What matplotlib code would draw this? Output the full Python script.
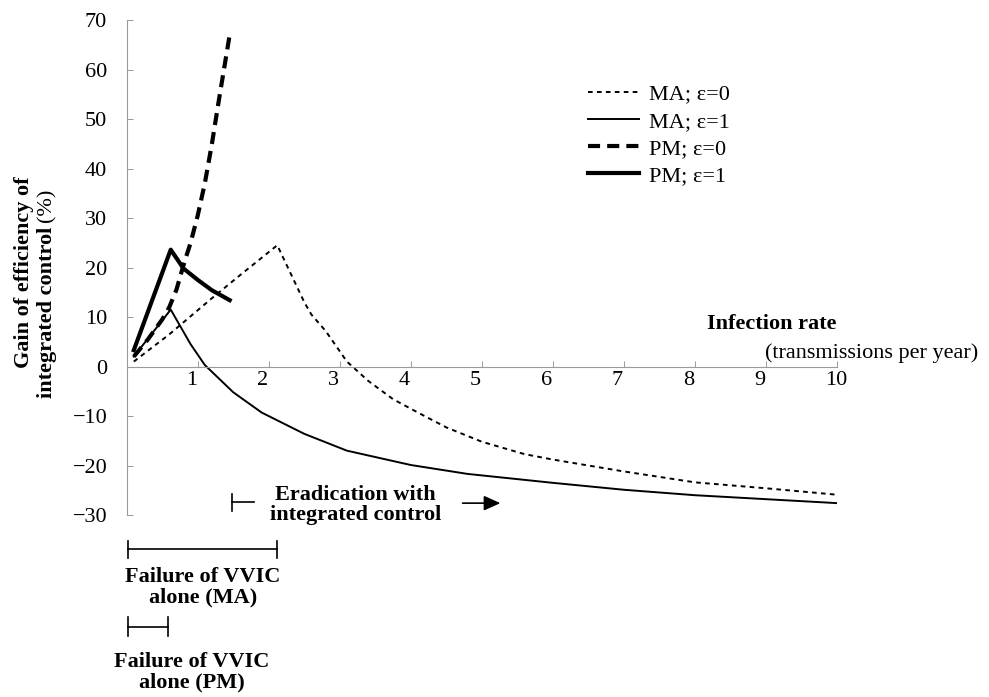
"""Gain of efficiency of integrated control vs infection rate (MA / PM models)."""
import matplotlib
matplotlib.use("Agg")
import matplotlib.pyplot as plt
import matplotlib.transforms as mtransforms

plt.rcParams["font.family"] = ["Liberation Serif", "DejaVu Serif"]
plt.rcParams["axes.unicode_minus"] = True

# MA model, epsilon = 0 (thin dotted)
ma0_x = [0.1, 0.6, 1.2, 1.6, 2.12, 2.5, 2.6, 2.8, 3.1, 3.4, 3.75, 4.1, 4.5, 5.0, 5.6, 6.0, 7.0, 8.0, 9.0, 10.0]
ma0_y = [1.0, 6.5, 13.8, 18.5, 24.5, 13.0, 10.5, 7.2, 1.0, -2.9, -6.6, -9.3, -12.3, -15.2, -17.7, -18.8, -21.2, -23.4, -24.6, -25.9]
# MA model, epsilon = 1 (thin solid)
ma1_x = [0.1, 0.62, 0.9, 1.1, 1.5, 1.9, 2.5, 3.1, 4.0, 4.8, 6.0, 7.0, 8.0, 9.0, 10.0]
ma1_y = [2.0, 11.5, 4.5, 0.3, -5.2, -9.3, -13.6, -17.0, -19.9, -21.7, -23.5, -24.9, -26.0, -26.8, -27.6]
# PM model, epsilon = 0 (thick dashed)
pm0_x = [0.1, 0.3, 0.5, 0.6, 0.7, 0.8, 0.9, 1.0, 1.1, 1.2, 1.3, 1.45]
pm0_y = [2.0, 5.5, 9.5, 12.0, 15.5, 20.5, 25.0, 30.5, 37.0, 45.0, 54.0, 67.0]
# PM model, epsilon = 1 (thick solid)
pm1_x = [0.1, 0.62, 0.8, 1.0, 1.2, 1.45]
pm1_y = [3.3, 23.6, 19.8, 17.5, 15.4, 13.4]

labels = ["MA; \u03b5=0", "MA; \u03b5=1", "PM; \u03b5=0", "PM; \u03b5=1"]
xticks = list(range(1, 11))
yticks = list(range(-30, 80, 10))

# ranges shown under the axis (infection rate)
ma_fail = (0.02, 2.12)
pm_fail = (0.02, 0.58)
erad_start = 1.48

FS = 16
fig = plt.figure(figsize=(9.89, 6.97), dpi=100)
ax = fig.add_axes([0.1281, 0.2611, 0.7182, 0.7102])

ax.plot(ma0_x, ma0_y, color="black", lw=1.4, ls=(0, (2.4, 2.2)), label=labels[0])
ax.plot(ma1_x, ma1_y, color="black", lw=1.4, label=labels[1])
ax.plot(pm0_x, pm0_y, color="black", lw=3.0, ls=(0, (2.9, 1.7)), label=labels[2])
ax.plot(pm1_x, pm1_y, color="black", lw=3.0, label=labels[3])

ax.set_xlim(0, 10)
ax.set_ylim(-30, 70)
ax.spines["top"].set_visible(False)
ax.spines["right"].set_visible(False)
ax.spines["bottom"].set_position(("data", 0))
for sp in ("left", "bottom"):
    ax.spines[sp].set_color("#9a9a9a")
    ax.spines[sp].set_linewidth(0.8)
ax.set_xticks(xticks)
ax.set_yticks(yticks)
ax.tick_params(axis="both", direction="in", length=4, width=0.7, color="#9a9a9a",
               labelsize=FS)
ax.tick_params(axis="y", pad=14)
ax.tick_params(axis="x", pad=3)
off = mtransforms.ScaledTranslation(-12 / 100, 0, fig.dpi_scale_trans)
for lab in ax.get_xticklabels():
    lab.set_horizontalalignment("left")
    lab.set_transform(lab.get_transform() + off)

leg = ax.legend(loc="upper left", bbox_to_anchor=(588 / 989, 1 - 84 / 697),
                bbox_transform=fig.transFigure, frameon=False, fontsize=FS,
                handlelength=2.3, handletextpad=0.45, labelspacing=0.3,
                borderpad=0, borderaxespad=0)

# axis titles
fig.text(24 / 989, 1 - 272 / 697, "Gain of efficiency of", rotation=90,
         ha="center", va="center", fontsize=FS, weight="bold")
t2 = fig.text(47 / 989, 1 - 398 / 697, "integrated control", rotation=90,
              ha="center", va="bottom", fontsize=FS, weight="bold")
fig.canvas.draw()
bb = t2.get_window_extent()
fig.text(47 / 989, (bb.y1 + 5) / fig.bbox.height, "(%)", rotation=90,
         ha="center", va="bottom", fontsize=FS)

ax.text(10, 8.5, "Infection rate", ha="right", va="center", fontsize=FS, weight="bold")
fig.text(765 / 989, 1 - 353 / 697, "(transmissions per year)", ha="left", va="center",
         fontsize=FS)

# eradication range
kw = dict(color="black", lw=1.2, clip_on=False)
ax.plot([erad_start, erad_start], [-25.7, -29.2], **kw)
ax.plot([erad_start, erad_start + 0.31], [-27.4, -27.4], **kw)
ax.text(3.22, -28.0, "Eradication with\nintegrated control", ha="center", va="center",
        fontsize=FS, weight="bold", linespacing=1.0)
ax.annotate("", xy=(5.3, -27.6), xytext=(4.69, -27.6), annotation_clip=False,
            arrowprops=dict(arrowstyle="-|>,head_length=1.0,head_width=0.45",
                            color="black", lw=1.2))

# failure ranges
ax.plot(list(ma_fail), [-36.9, -36.9], **kw)
for xv in ma_fail:
    ax.plot([xv, xv], [-35.2, -38.6], **kw)
ax.text(sum(ma_fail) / 2, -44.6, "Failure of VVIC\nalone (MA)", ha="center",
        va="center", fontsize=FS, weight="bold", linespacing=1.0)
ax.plot(list(pm_fail), [-52.6, -52.6], **kw)
for xv in pm_fail:
    ax.plot([xv, xv], [-50.7, -54.5], **kw)
ax.text(0.92, -61.8, "Failure of VVIC\nalone (PM)", ha="center", va="center",
        fontsize=FS, weight="bold", linespacing=1.0)

fig.savefig("out.png", dpi=100, facecolor="white")
